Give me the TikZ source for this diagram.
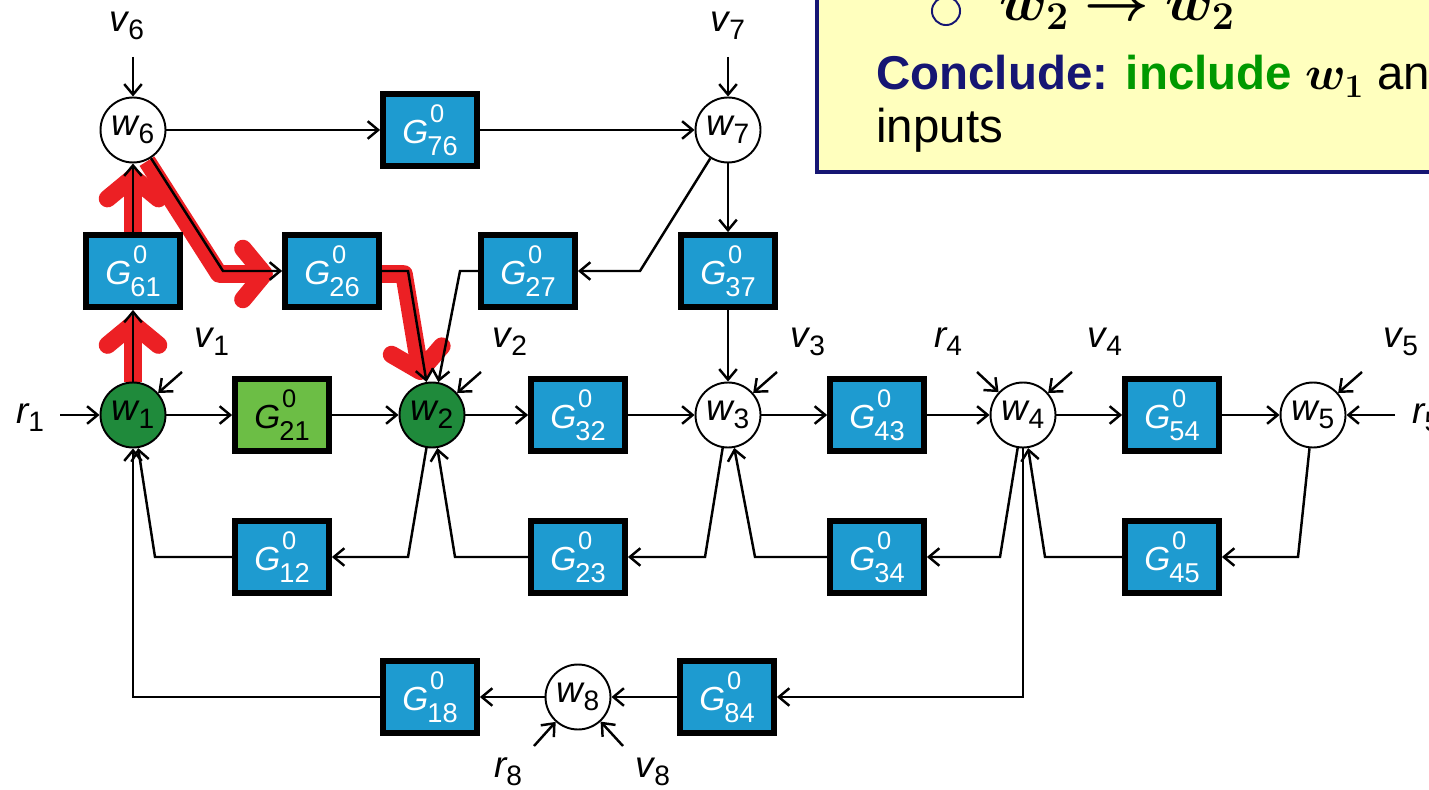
\RequirePackage{fix-cm}
\documentclass[tikz,border=0pt]{standalone}
\usepackage{amsmath,bm}
\usepackage{fontspec}
\setmainfont{Liberation Sans}
\usetikzlibrary{arrows.meta,backgrounds}

\definecolor{boxblue}{RGB}{30,155,208}
\definecolor{nodegreen}{RGB}{31,138,59}
\definecolor{lightgreen}{RGB}{108,190,69}
\definecolor{notenavy}{RGB}{22,22,115}
\definecolor{noteyellow}{RGB}{255,255,190}
\definecolor{hlred}{RGB}{236,32,36}
\definecolor{textgreen}{RGB}{0,153,0}

% signal label: italic letter with a lowered index
\newcommand{\sgl}[2]{{\fontsize{21}{21}\selectfont\itshape #1}\raisebox{-4.5pt}{\fontsize{16}{16}\selectfont #2}}
% transfer label G^0_{ij}
\newcommand{\gtf}[1]{{\fontsize{19}{19}\selectfont\itshape G}\kern-0.5pt\rlap{\raisebox{12pt}{\fontsize{14.5}{14.5}\selectfont\kern1.5pt 0}}\raisebox{-6.5pt}{\fontsize{15.5}{15.5}\selectfont #1}}

\begin{document}
\begin{tikzpicture}[x=0.02cm,y=-0.02cm,>={Straight Barb[length=6pt,width=10pt]},
  conn/.style={line width=1.4pt},
  sumnode/.style={circle,draw,line width=1.1pt,fill=white,minimum size=1.3cm,inner sep=0pt},
  greensum/.style={sumnode,fill=nodegreen},
  tfbox/.style={draw=black,line width=3.6pt,fill=boxblue,text=white,minimum width=1.87cm,minimum height=1.43cm,inner sep=0pt},
  tfgreen/.style={tfbox,fill=lightgreen,text=black},
  extlabel/.style={inner sep=0pt},
  hl/.style={draw=hlred,line width=10pt,line join=round,shorten >=3pt,-{Straight Barb[length=12pt,width=29pt,round]}}]
\useasboundingbox (0,0) rectangle (1429,790);
\clip (0,0) rectangle (1429,790);

% nodes
\node[sumnode] (w6) at (133,130) {\sgl{w}{6}};
\node[tfbox] (G76) at (430,130) {\gtf{76}};
\node[sumnode] (w7) at (728,130) {\sgl{w}{7}};
\node[tfbox] (G61) at (133,271) {\gtf{61}};
\node[tfbox] (G26) at (332,271) {\gtf{26}};
\node[tfbox] (G27) at (528,271) {\gtf{27}};
\node[tfbox] (G37) at (728,271) {\gtf{37}};
\node[greensum] (w1) at (133,415) {\sgl{w}{1}};
\node[tfgreen] (G21) at (282,415) {\gtf{21}};
\node[greensum] (w2) at (432,415) {\sgl{w}{2}};
\node[tfbox] (G32) at (578,415) {\gtf{32}};
\node[sumnode] (w3) at (728,415) {\sgl{w}{3}};
\node[tfbox] (G43) at (877,415) {\gtf{43}};
\node[sumnode] (w4) at (1023,415) {\sgl{w}{4}};
\node[tfbox] (G54) at (1172,415) {\gtf{54}};
\node[sumnode] (w5) at (1313,415) {\sgl{w}{5}};
\node[tfbox] (G12) at (282,557) {\gtf{12}};
\node[tfbox] (G23) at (578,557) {\gtf{23}};
\node[tfbox] (G34) at (877,557) {\gtf{34}};
\node[tfbox] (G45) at (1172,557) {\gtf{45}};
\node[tfbox] (G18) at (430,697) {\gtf{18}};
\node[sumnode] (w8) at (578,697) {\sgl{w}{8}};
\node[tfbox] (G84) at (727,697) {\gtf{84}};

% external signals
\node[extlabel] (v6) at (127,26) {\sgl{v}{6}};
\node[extlabel] (v7) at (728,26) {\sgl{v}{7}};
\node[extlabel] (v1) at (212,342) {\sgl{v}{1}};
\node[extlabel] (v2) at (510,342) {\sgl{v}{2}};
\node[extlabel] (v3) at (808,342) {\sgl{v}{3}};
\node[extlabel] (r4) at (948,342) {\sgl{r}{4}};
\node[extlabel] (v4) at (1105,342) {\sgl{v}{4}};
\node[extlabel] (v5) at (1401,342) {\sgl{v}{5}};
\node[extlabel] (r1) at (30,418) {\sgl{r}{1}};
\node[extlabel,anchor=west] (r5) at (1412,418) {\sgl{r}{5}};
\node[extlabel] (r8) at (508,772) {\sgl{r}{8}};
\node[extlabel] (v8) at (653,772) {\sgl{v}{8}};

\coordinate (v6s) at (133,57);
\coordinate (v7s) at (728,57);
\coordinate (r1s) at (60,415);
\coordinate (r5s) at (1395,415);
\coordinate (v1s) at (182,372);
\coordinate (v2s) at (481,372);
\coordinate (v3s) at (777,372);
\coordinate (r4s) at (977,372);
\coordinate (v4s) at (1072,372);
\coordinate (v5s) at (1362,372);
\coordinate (r8s) at (534,746);
\coordinate (v8s) at (623,746);

% bends
\coordinate (b26) at (223,271);
\coordinate (b62) at (408,271);
\coordinate (b72) at (640,271);
\coordinate (b27) at (460,271);
\coordinate (b21) at (408,557);
\coordinate (b11) at (155,557);
\coordinate (b32) at (705,557);
\coordinate (b22) at (455,557);
\coordinate (b43) at (1000,557);
\coordinate (b33) at (755,557);
\coordinate (b54) at (1298,557);
\coordinate (b44) at (1045,557);
\coordinate (b48) at (1023,697);
\coordinate (b18) at (133,697);

% highlighted path
\begin{scope}[on background layer]
\draw[hl] (w1) -- (G61);
\draw[hl] (G61) -- (w6);
\begin{scope}[transform canvas={shift={(-4,3)}}]
\draw[hl] (w6) -- (b26) -- (G26);
\draw[hl] (G26) -- (b62) -- (w2);
\end{scope}
\end{scope}

% connectors
\draw[conn,->] (v6s) -- (w6);
\draw[conn,->] (v7s) -- (w7);
\draw[conn,->] (w6) -- (G76);
\draw[conn,->] (G76) -- (w7);
\draw[conn,->] (w7) -- (G37);
\draw[conn,->] (G37) -- (w3);
\draw[conn,->] (w7) -- (b72) -- (G27);
\draw[conn,->] (G27) -- (b27) -- (w2);
\draw[conn,->] (w6) -- (b26) -- (G26);
\draw[conn,->] (G26) -- (b62) -- (w2);
\draw[conn,->] (w1) -- (G61);
\draw[conn,->] (G61) -- (w6);
\draw[conn,->] (r1s) -- (w1);
\draw[conn,->] (r5s) -- (w5);
\foreach \a/\b in {w1/G21,G21/w2,w2/G32,G32/w3,w3/G43,G43/w4,w4/G54,G54/w5,G84/w8,w8/G18}
  \draw[conn,->] (\a) -- (\b);
\foreach \s/\t in {v1s/w1,v2s/w2,v3s/w3,r4s/w4,v4s/w4,v5s/w5,r8s/w8,v8s/w8}
  \draw[conn,->] (\s) -- (\t);
\draw[conn,->] (w2) -- (b21) -- (G12);
\draw[conn,->] (G12) -- (b11) -- (w1);
\draw[conn,->] (w3) -- (b32) -- (G23);
\draw[conn,->] (G23) -- (b22) -- (w2);
\draw[conn,->] (w4) -- (b43) -- (G34);
\draw[conn,->] (G34) -- (b33) -- (w3);
\draw[conn,->] (w5) -- (b54) -- (G45);
\draw[conn,->] (G45) -- (b44) -- (w4);
\draw[conn,->] (w4) -- (b48) -- (G84);
\draw[conn,->] (G18) -- (b18) -- (w1);

% note box
\draw[notenavy,fill=noteyellow,line width=2.8pt] (817,-30) rectangle (1470,172);
\node[circle,draw=notenavy,line width=1.1pt,minimum size=16pt,inner sep=0pt] (bullet) at (946,11) {};
\node[anchor=base west,inner sep=0pt] (flow) at (999,21) {\fontsize{32}{32}\selectfont$\boldsymbol{w_2\rightarrow w_2}$};
\node[anchor=base west,inner sep=0pt] (concl) at (876,90) {\fontsize{27}{27}\selectfont\textbf{\color{notenavy}Conclude: \color{textgreen}include} $\boldsymbol{w_1}$ an};
\node[anchor=base west,inner sep=0pt] (inp) at (876,143) {\fontsize{27}{27}\selectfont inputs};
\end{tikzpicture}
\end{document}
